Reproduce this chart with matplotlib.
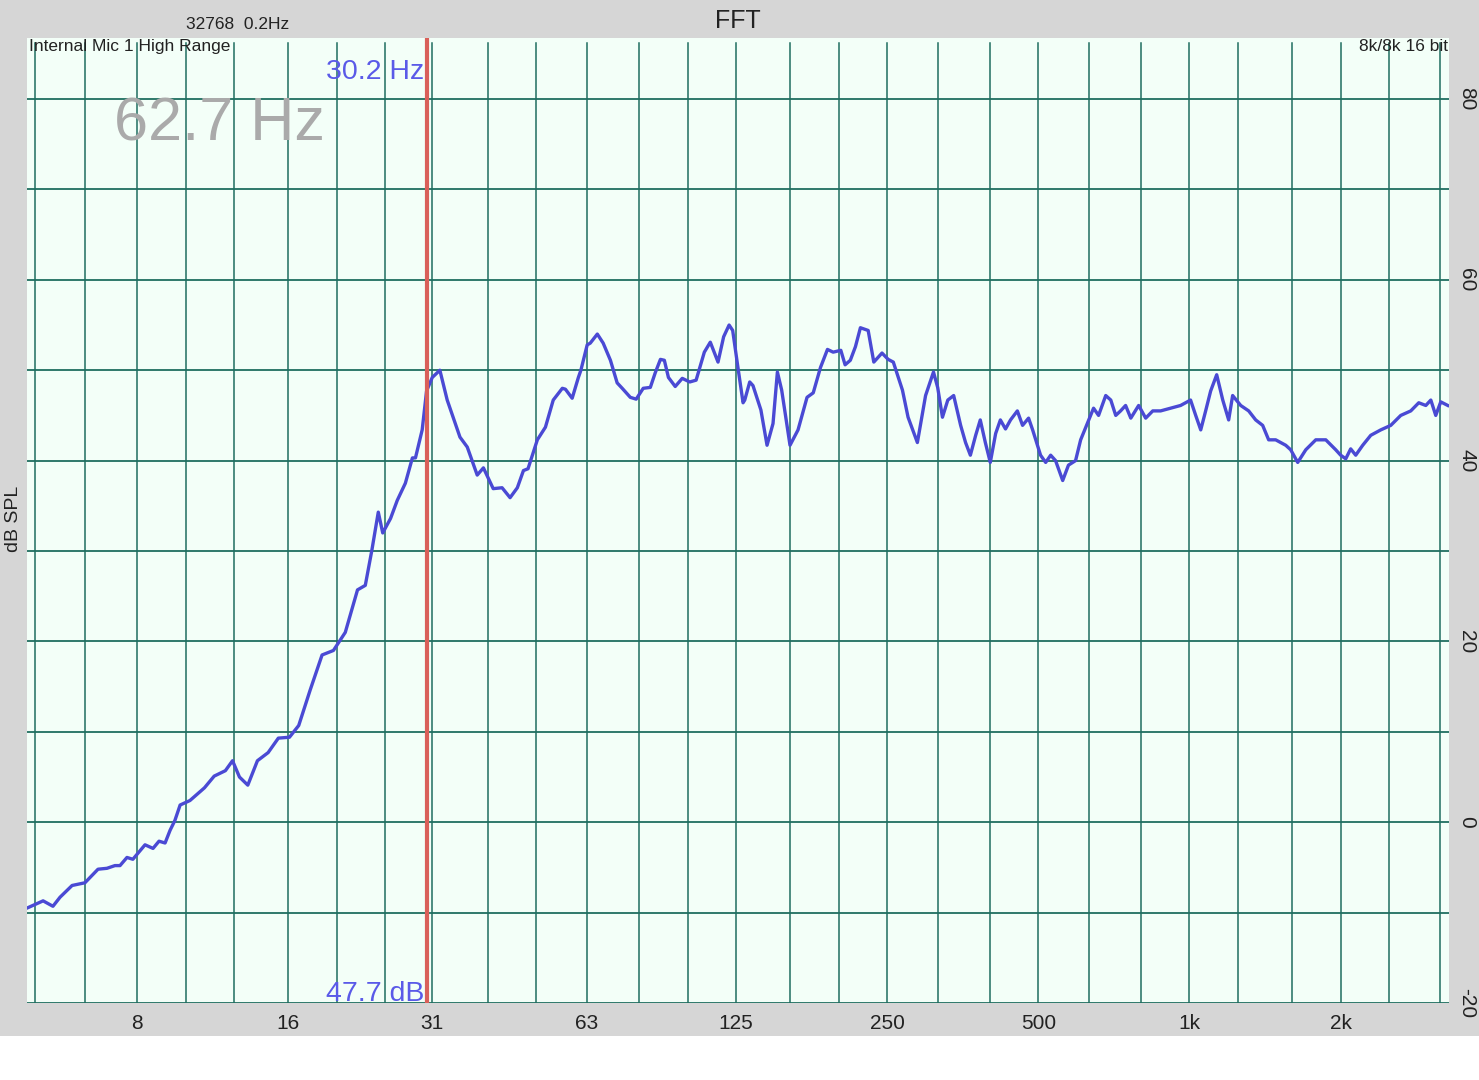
import matplotlib.pyplot as plt
import numpy as np
from matplotlib.patches import Rectangle

plt.rcParams['font.family'] = ['Liberation Sans', 'DejaVu Sans']

# spectrum (Hz, dB SPL)
freq = [4.83, 5.20, 5.44, 5.62, 5.94, 6.30, 6.69, 6.97, 7.23, 7.40, 7.64, 7.85,
        8.30, 8.61, 8.85, 9.10, 9.31, 9.52, 9.75, 10.2, 10.9, 11.4, 12.0, 12.4,
        12.8, 13.3, 13.9, 14.6, 15.3, 16.1, 16.8, 17.7, 18.7, 19.7, 20.8, 22.0,
        22.8, 23.5, 24.2, 24.7, 25.6, 26.4, 27.4, 28.3, 28.7, 29.6, 30.2, 31.0,
        32.1, 33.2, 35.2, 36.4, 38.1, 39.2, 41.0, 42.7, 44.3, 45.8, 47.1, 48.1,
        50.2, 52.1, 54.0, 56.3, 57.1, 58.9, 60.6, 61.3, 63.1, 64.0, 66.1, 67.9,
        70.2, 72.4, 74.1, 76.9, 79.0, 81.6, 84.3, 86.2, 88.3, 89.9, 91.6, 94.5,
        97.6, 101, 104, 108, 111, 115, 118, 121, 123, 126, 129, 130, 133, 135,
        140, 144, 148, 151, 154, 160, 166, 173, 178, 184, 190, 195, 202, 206,
        211, 216, 221, 229, 235, 244, 251, 257, 268, 275, 287, 298, 309, 315,
        322, 330, 339, 350, 358, 366, 375, 383, 392, 401, 411, 420, 430, 440,
        454, 465, 478, 487, 505, 517, 529, 541, 559, 574, 593, 607, 630, 644,
        659, 681, 697, 713, 729, 746, 764, 792, 818, 845, 876, 917, 960, 1005,
        1029, 1053, 1077, 1102, 1133, 1165, 1197, 1219, 1265, 1312, 1355, 1399,
        1438, 1485, 1555, 1591, 1643, 1705, 1785, 1869, 1956, 2001, 2048, 2095,
        2144, 2214, 2297, 2405, 2518, 2636, 2760, 2863, 2957, 3026, 3095, 3167,
        3271]
level = [-9.5, -8.7, -9.3, -8.3, -7.0, -6.7, -5.2, -5.1, -4.8, -4.8, -3.9, -4.1,
         -2.5, -2.9, -2.1, -2.3, -0.9, 0.2, 1.9, 2.4, 3.8, 5.1, 5.7, 6.8,
         5.0, 4.1, 6.8, 7.7, 9.3, 9.4, 10.7, 14.6, 18.5, 19.0, 21.0, 25.7,
         26.2, 30.1, 34.3, 32.0, 33.6, 35.6, 37.5, 40.3, 40.3, 43.4, 47.7, 49.2,
         50.0, 46.7, 42.6, 41.5, 38.4, 39.2, 36.9, 37.0, 35.9, 37.0, 38.9, 39.1,
         42.3, 43.7, 46.7, 48.0, 47.9, 46.9, 49.2, 50.0, 52.8, 53.0, 54.0, 53.0,
         51.1, 48.6, 48.0, 47.0, 46.8, 48.0, 48.1, 49.7, 51.2, 51.1, 49.2, 48.2,
         49.1, 48.7, 48.9, 52.0, 53.1, 50.9, 53.7, 55.0, 54.4, 50.3, 46.4, 46.7, 48.7, 48.3,
         45.6, 41.7, 44.1, 49.8, 47.8, 41.7, 43.4, 47.0, 47.5, 50.3, 52.3, 52.0, 52.2, 50.6,
         51.1, 52.6, 54.7, 54.4, 50.9, 51.9, 51.2, 50.9, 47.8, 44.8, 42.0, 47.2, 49.8, 48.1,
         44.8, 46.7, 47.2, 43.9, 42.0, 40.6, 42.8, 44.5, 42.0, 39.8, 43.0, 44.5, 43.5, 44.5,
         45.5, 43.9, 44.7, 43.4, 40.6, 39.8, 40.6, 40.0, 37.8, 39.5, 40.0, 42.3, 44.5, 45.8,
         45.0, 47.2, 46.7, 45.0, 45.5, 46.1, 44.7, 46.1, 44.7, 45.5, 45.5, 45.8, 46.1, 46.7,
         45.0, 43.4, 45.5, 47.7, 49.5, 46.7, 44.5, 47.2, 46.1, 45.5, 44.5, 43.9,
         42.3, 42.3, 41.7, 41.2, 39.8, 41.2, 42.3, 42.3, 41.2, 40.6, 40.2, 41.3,
         40.6, 41.7, 42.8, 43.4, 43.9, 45.0, 45.5, 46.4, 46.1, 46.7, 45.0, 46.5,
         46.1]

grid_freqs = [5, 6.3, 8, 10, 12.5, 16, 20, 25, 31, 40, 50, 63, 80, 100, 125,
              160, 200, 250, 315, 400, 500, 630, 800, 1000, 1250, 1600, 2000,
              2500, 3150]
xtick_vals = [8, 16, 31, 63, 125, 250, 500, 1000, 2000]
xtick_labels = ['8', '16', '31', '63', '125', '250', '500', '1k', '2k']
ytick_vals = [-20, 0, 20, 40, 60, 80]
cursor_hz = 30.2
cursor_db = 47.7
peak_hz = 62.7

fig = plt.figure(figsize=(14.79, 10.80), dpi=100, facecolor='white')
fig.patches.append(Rectangle((0, 0.0407), 1, 1 - 0.0407, transform=fig.transFigure,
                             facecolor='#d6d6d6', edgecolor='none', zorder=-10))
ax = fig.add_axes([0.01826, 0.0713, 0.9615, 0.8935])
ax.set_facecolor('#f3fff8')
ax.set_xscale('log')
ax.set_xlim(4.83, 3290)
ax.set_ylim(-20, 86.75)

grid_col = '#1f6e60'
for g in grid_freqs:
    ax.axvline(g, ymax=0.995, color=grid_col, lw=1.1, zorder=1)
for yv in range(-20, 90, 10):
    ax.axhline(yv, color=grid_col, lw=1.3, zorder=1)

ax.plot(freq, level, color='#4a4ad4', lw=2.4, zorder=3)
ax.axvline(cursor_hz, color='#d9605a', lw=3, zorder=4)

for s in ax.spines.values():
    s.set_visible(False)

ax.set_xticks(xtick_vals)
ax.set_xticklabels(xtick_labels)
ax.xaxis.set_minor_locator(plt.NullLocator())
ax.tick_params(axis='x', length=0, pad=8, labelsize=15, colors='#222222')
ax.yaxis.tick_right()
ax.set_yticks(ytick_vals)
ax.set_yticklabels([str(v) for v in ytick_vals], rotation=-90, va='center')
ax.tick_params(axis='y', length=0, pad=6, labelsize=15, colors='#222222')

fig.text(0.009, 0.52, 'dB SPL', rotation=90, ha='center', va='center',
         fontsize=14, color='#222222')
fig.text(0.499, 0.981, 'FFT', ha='center', va='center', fontsize=18, color='#222222')
fig.text(0.126, 0.977, '32768  0.2Hz', ha='left', va='center', fontsize=12.5,
         color='#222222')
ax.text(0.0015, 0.999, 'Internal Mic 1 High Range', transform=ax.transAxes,
        ha='left', va='top', fontsize=12.5, color='#222222')
ax.text(0.999, 0.999, '8k/8k 16 bit', transform=ax.transAxes,
        ha='right', va='top', fontsize=12.5, color='#222222')
ax.text(cursor_hz / 1.012, 83.0, f'{cursor_hz} Hz', ha='right', va='center',
        fontsize=20.5, color='#5a5ae8', zorder=5)
ax.text(cursor_hz / 1.012, -19.8, f'{cursor_db} dB', ha='right', va='baseline',
        fontsize=20.5, color='#5a5ae8', zorder=5)
ax.text(0.061, 0.91, f'{peak_hz} Hz', transform=ax.transAxes, ha='left',
        va='center', fontsize=44, color='#aaaaaa', zorder=5)

fig.savefig('out.png', dpi=100, facecolor=fig.get_facecolor())
